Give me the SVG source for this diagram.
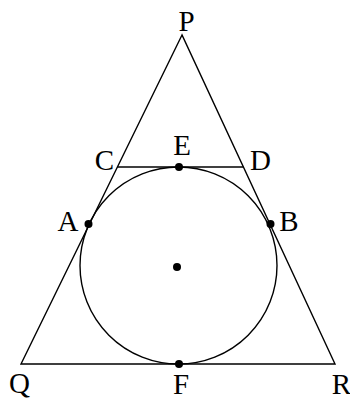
<svg xmlns="http://www.w3.org/2000/svg" width="350" height="403" viewBox="0 0 350 403">
<style>
.ln{fill:none;stroke:#000;stroke-width:1.4}
.dot{fill:#000}
.lb{font-family:"Liberation Serif","Times New Roman",serif;font-size:29px;fill:#000}
</style>
<rect width="350" height="403" fill="#fff"/>
<g id="connectors">
<polygon class="ln" points="182,35 21,364 335,364"/>
<line class="ln" x1="117.5" y1="167" x2="243.5" y2="167"/>
<circle class="ln" cx="178.5" cy="265.5" r="98.5"/>
</g>
<g id="P"><text class="lb" x="186.5" y="31" text-anchor="middle">P</text></g>
<g id="Q"><text class="lb" x="19.5" y="393" text-anchor="middle">Q</text></g>
<g id="R"><text class="lb" x="341.5" y="394" text-anchor="middle">R</text></g>
<g id="C"><text class="lb" x="104.5" y="170" text-anchor="middle">C</text></g>
<g id="D"><text class="lb" x="260.5" y="170" text-anchor="middle">D</text></g>
<g id="E"><circle class="dot" cx="179" cy="167" r="4"/><text class="lb" x="182" y="155" text-anchor="middle">E</text></g>
<g id="A"><circle class="dot" cx="88.5" cy="224" r="4"/><text class="lb" x="68" y="231" text-anchor="middle">A</text></g>
<g id="B"><circle class="dot" cx="270.5" cy="224" r="4"/><text class="lb" x="289" y="231" text-anchor="middle">B</text></g>
<g id="F"><circle class="dot" cx="179" cy="364" r="4"/><text class="lb" x="181" y="394" text-anchor="middle">F</text></g>
<g id="O"><circle class="dot" cx="177" cy="267" r="4"/></g>
</svg>
